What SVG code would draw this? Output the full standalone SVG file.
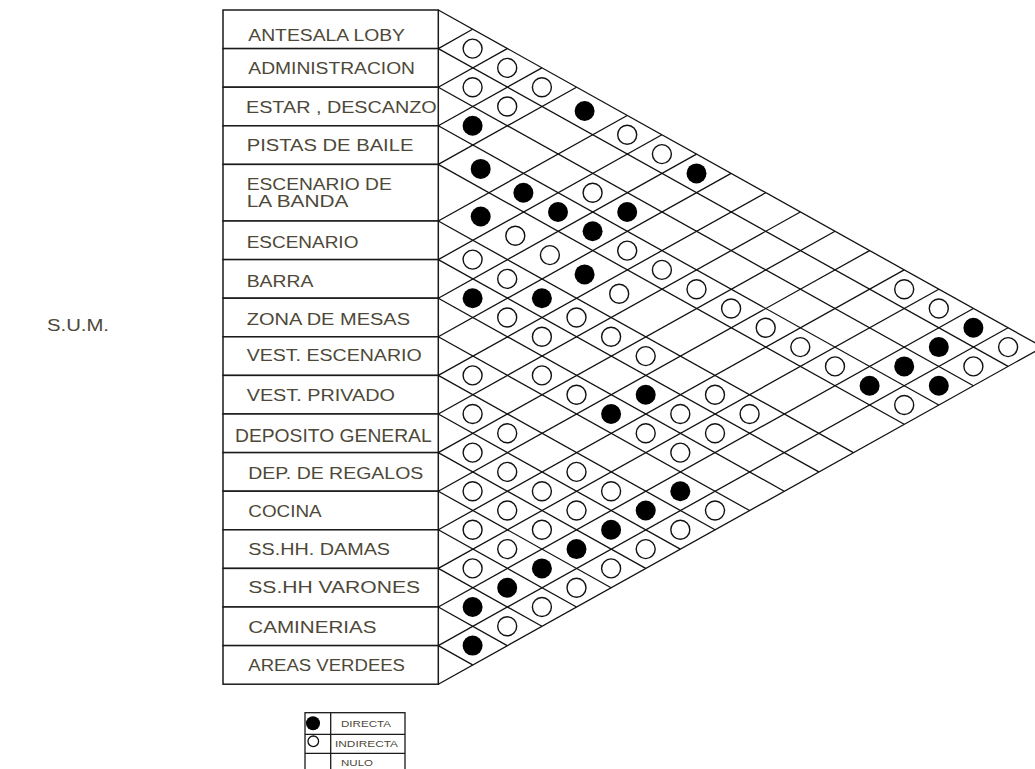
<svg xmlns="http://www.w3.org/2000/svg" width="1035" height="769" viewBox="0 0 1035 769">
<style>
.row{fill:#fff;stroke:#1a1a1a;stroke-width:1.5}
.lbl{font-family:"Liberation Sans",Arial,sans-serif;font-size:16px;fill:#4d4838}
.lg{font-family:"Liberation Sans",Arial,sans-serif;font-size:8.5px;fill:#4d4838}
.grid line{stroke:#111;stroke-width:1.3}
.o{fill:none;stroke:#111;stroke-width:1.4}
.f{fill:#000}
</style>
<rect width="1035" height="769" fill="#fff"/>
<text class="lbl" x="47" y="331" textLength="62" lengthAdjust="spacingAndGlyphs">S.U.M.</text>
<g id="rows">
<g id="n1"><rect class="row" x="223" y="10" width="215.3" height="38.6"/><text class="lbl" x="248.3" y="40.7" textLength="156.7" lengthAdjust="spacingAndGlyphs">ANTESALA LOBY</text></g>
<g id="n2"><rect class="row" x="223" y="48.6" width="215.3" height="38.6"/><text class="lbl" x="248.3" y="74" textLength="166.7" lengthAdjust="spacingAndGlyphs">ADMINISTRACION</text></g>
<g id="n3"><rect class="row" x="223" y="87.2" width="215.3" height="38.6"/><text class="lbl" x="246" y="112.7" textLength="190.7" lengthAdjust="spacingAndGlyphs">ESTAR , DESCANZO</text></g>
<g id="n4"><rect class="row" x="223" y="125.8" width="215.3" height="38.6"/><text class="lbl" x="246.7" y="150.7" textLength="166.7" lengthAdjust="spacingAndGlyphs">PISTAS DE BAILE</text></g>
<g id="n5"><rect class="row" x="223" y="164.4" width="215.3" height="56.6"/><text class="lbl" x="246.7" y="190" textLength="145" lengthAdjust="spacingAndGlyphs">ESCENARIO DE</text><text class="lbl" x="246.7" y="207.3" textLength="101.7" lengthAdjust="spacingAndGlyphs">LA BANDA</text></g>
<g id="n6"><rect class="row" x="223" y="221" width="215.3" height="38.6"/><text class="lbl" x="246.7" y="248.3" textLength="111.7" lengthAdjust="spacingAndGlyphs">ESCENARIO</text></g>
<g id="n7"><rect class="row" x="223" y="259.6" width="215.3" height="38.6"/><text class="lbl" x="246.7" y="287.3" textLength="66.7" lengthAdjust="spacingAndGlyphs">BARRA</text></g>
<g id="n8"><rect class="row" x="223" y="298.2" width="215.3" height="38.6"/><text class="lbl" x="246.7" y="325" textLength="163.3" lengthAdjust="spacingAndGlyphs">ZONA DE MESAS</text></g>
<g id="n9"><rect class="row" x="223" y="336.8" width="215.3" height="38.6"/><text class="lbl" x="246.7" y="361" textLength="175" lengthAdjust="spacingAndGlyphs">VEST. ESCENARIO</text></g>
<g id="n10"><rect class="row" x="223" y="375.4" width="215.3" height="38.6"/><text class="lbl" x="246.7" y="400.7" textLength="148.3" lengthAdjust="spacingAndGlyphs">VEST. PRIVADO</text></g>
<g id="n11"><rect class="row" x="223" y="414" width="215.3" height="38.6"/><text class="lbl" x="235" y="441.7" style="font-size:19px" textLength="196.7" lengthAdjust="spacingAndGlyphs">DEPOSITO GENERAL</text></g>
<g id="n12"><rect class="row" x="223" y="452.6" width="215.3" height="38.6"/><text class="lbl" x="248.3" y="479.3" textLength="175" lengthAdjust="spacingAndGlyphs">DEP. DE REGALOS</text></g>
<g id="n13"><rect class="row" x="223" y="491.2" width="215.3" height="38.6"/><text class="lbl" x="248.3" y="516.7" textLength="73.3" lengthAdjust="spacingAndGlyphs">COCINA</text></g>
<g id="n14"><rect class="row" x="223" y="529.8" width="215.3" height="38.6"/><text class="lbl" x="248.3" y="555" textLength="141.7" lengthAdjust="spacingAndGlyphs">SS.HH. DAMAS</text></g>
<g id="n15"><rect class="row" x="223" y="568.4" width="215.3" height="38.6"/><text class="lbl" x="248.3" y="593.3" textLength="171.7" lengthAdjust="spacingAndGlyphs">SS.HH VARONES</text></g>
<g id="n16"><rect class="row" x="223" y="607" width="215.3" height="38.6"/><text class="lbl" x="248.3" y="632.7" textLength="128.3" lengthAdjust="spacingAndGlyphs">CAMINERIAS</text></g>
<g id="n17"><rect class="row" x="223" y="645.6" width="215.3" height="38.6"/><text class="lbl" x="248.3" y="670.7" textLength="156.7" lengthAdjust="spacingAndGlyphs">AREAS VERDEES</text></g>
</g>
<g id="connectors" class="grid">
<line x1="438.3" y1="10" x2="1042.7" y2="347.1"/>
<line x1="438.3" y1="48.6" x2="1008.1" y2="366.4"/><line x1="438.3" y1="48.6" x2="472.6" y2="29.3"/>
<line x1="438.3" y1="87.2" x2="973.4" y2="385.7"/><line x1="438.3" y1="87.2" x2="507.2" y2="48.6"/>
<line x1="438.3" y1="125.8" x2="938.8" y2="405"/><line x1="438.3" y1="125.8" x2="541.9" y2="67.9"/>
<line x1="438.3" y1="164.4" x2="904.2" y2="424.3"/><line x1="438.3" y1="164.4" x2="576.5" y2="87.2"/>
<line x1="438.3" y1="221" x2="853.4" y2="452.6"/><line x1="438.3" y1="221" x2="627.2" y2="115.5"/>
<line x1="438.3" y1="259.6" x2="818.8" y2="471.9"/><line x1="438.3" y1="259.6" x2="661.9" y2="134.8"/>
<line x1="438.3" y1="298.2" x2="784.2" y2="491.2"/><line x1="438.3" y1="298.2" x2="696.5" y2="154.1"/>
<line x1="438.3" y1="336.8" x2="749.6" y2="510.5"/><line x1="438.3" y1="336.8" x2="731.1" y2="173.4"/>
<line x1="438.3" y1="375.4" x2="715" y2="529.8"/><line x1="438.3" y1="375.4" x2="765.7" y2="192.7"/>
<line x1="438.3" y1="414" x2="680.3" y2="549.1"/><line x1="438.3" y1="414" x2="800.3" y2="212"/>
<line x1="438.3" y1="452.6" x2="645.7" y2="568.4"/><line x1="438.3" y1="452.6" x2="835" y2="231.3"/>
<line x1="438.3" y1="491.2" x2="611.1" y2="587.7"/><line x1="438.3" y1="491.2" x2="869.6" y2="250.6"/>
<line x1="438.3" y1="529.8" x2="576.5" y2="607"/><line x1="438.3" y1="529.8" x2="904.2" y2="269.9"/>
<line x1="438.3" y1="568.4" x2="541.9" y2="626.3"/><line x1="438.3" y1="568.4" x2="938.8" y2="289.2"/>
<line x1="438.3" y1="607" x2="507.2" y2="645.6"/><line x1="438.3" y1="607" x2="973.4" y2="308.5"/>
<line x1="438.3" y1="645.6" x2="472.6" y2="664.9"/><line x1="438.3" y1="645.6" x2="1008.1" y2="327.8"/>
<line x1="438.3" y1="684.2" x2="1042.7" y2="347.1"/>
</g>
<g id="marks">
<g class="o">
<circle cx="472.6" cy="48.6" r="9.5"/><circle cx="507.2" cy="67.9" r="9.5"/><circle cx="541.9" cy="87.2" r="9.5"/><circle cx="627.2" cy="134.8" r="9.5"/><circle cx="661.9" cy="154.1" r="9.5"/><circle cx="904.2" cy="289.2" r="9.5"/><circle cx="938.8" cy="308.5" r="9.5"/><circle cx="1008.1" cy="347.1" r="9.5"/>
<circle cx="472.6" cy="87.2" r="9.5"/><circle cx="507.2" cy="106.5" r="9.5"/><circle cx="973.4" cy="366.4" r="9.5"/>
<circle cx="592.6" cy="192.7" r="9.5"/>
<circle cx="627.2" cy="250.6" r="9.5"/><circle cx="661.9" cy="269.9" r="9.5"/><circle cx="696.5" cy="289.2" r="9.5"/><circle cx="731.1" cy="308.5" r="9.5"/><circle cx="765.7" cy="327.8" r="9.5"/><circle cx="800.3" cy="347.1" r="9.5"/><circle cx="835" cy="366.4" r="9.5"/><circle cx="904.2" cy="405" r="9.5"/>
<circle cx="515.3" cy="235.8" r="9.5"/><circle cx="549.9" cy="255.1" r="9.5"/><circle cx="619.2" cy="293.7" r="9.5"/>
<circle cx="472.6" cy="259.6" r="9.5"/><circle cx="507.2" cy="278.9" r="9.5"/><circle cx="576.5" cy="317.5" r="9.5"/><circle cx="611.1" cy="336.8" r="9.5"/><circle cx="645.7" cy="356.1" r="9.5"/><circle cx="715" cy="394.7" r="9.5"/><circle cx="749.6" cy="414" r="9.5"/>
<circle cx="507.2" cy="317.5" r="9.5"/><circle cx="541.9" cy="336.8" r="9.5"/><circle cx="680.3" cy="414" r="9.5"/><circle cx="715" cy="433.3" r="9.5"/>
<circle cx="541.9" cy="375.4" r="9.5"/><circle cx="576.5" cy="394.7" r="9.5"/><circle cx="645.7" cy="433.3" r="9.5"/><circle cx="680.3" cy="452.6" r="9.5"/>
<circle cx="472.6" cy="375.4" r="9.5"/><circle cx="715" cy="510.5" r="9.5"/>
<circle cx="472.6" cy="414" r="9.5"/><circle cx="507.2" cy="433.3" r="9.5"/><circle cx="576.5" cy="471.9" r="9.5"/><circle cx="611.1" cy="491.2" r="9.5"/><circle cx="680.3" cy="529.8" r="9.5"/>
<circle cx="472.6" cy="452.6" r="9.5"/><circle cx="507.2" cy="471.9" r="9.5"/><circle cx="541.9" cy="491.2" r="9.5"/><circle cx="576.5" cy="510.5" r="9.5"/><circle cx="645.7" cy="549.1" r="9.5"/>
<circle cx="472.6" cy="491.2" r="9.5"/><circle cx="507.2" cy="510.5" r="9.5"/><circle cx="541.9" cy="529.8" r="9.5"/><circle cx="611.1" cy="568.4" r="9.5"/>
<circle cx="472.6" cy="529.8" r="9.5"/><circle cx="507.2" cy="549.1" r="9.5"/><circle cx="576.5" cy="587.7" r="9.5"/>
<circle cx="472.6" cy="568.4" r="9.5"/><circle cx="541.9" cy="607" r="9.5"/>
<circle cx="507.2" cy="626.3" r="9.5"/>
</g>
<g class="f">
<circle cx="584.6" cy="111" r="10"/><circle cx="696.5" cy="173.4" r="10"/><circle cx="973.4" cy="327.8" r="10"/>
<circle cx="938.8" cy="347.1" r="10"/>
<circle cx="472.6" cy="125.8" r="10"/><circle cx="627.2" cy="212" r="10"/><circle cx="904.2" cy="366.4" r="10"/><circle cx="938.8" cy="385.7" r="10"/>
<circle cx="480.7" cy="168.9" r="10"/><circle cx="523.4" cy="192.7" r="10"/><circle cx="558" cy="212" r="10"/><circle cx="592.6" cy="231.3" r="10"/><circle cx="869.6" cy="385.7" r="10"/>
<circle cx="480.7" cy="216.5" r="10"/><circle cx="584.6" cy="274.4" r="10"/>
<circle cx="541.9" cy="298.2" r="10"/>
<circle cx="472.6" cy="298.2" r="10"/><circle cx="645.7" cy="394.7" r="10"/>
<circle cx="611.1" cy="414" r="10"/>
<circle cx="680.3" cy="491.2" r="10"/>
<circle cx="645.7" cy="510.5" r="10"/>
<circle cx="611.1" cy="529.8" r="10"/>
<circle cx="576.5" cy="549.1" r="10"/>
<circle cx="541.9" cy="568.4" r="10"/>
<circle cx="507.2" cy="587.7" r="10"/>
<circle cx="472.6" cy="607" r="10"/>
<circle cx="472.6" cy="645.6" r="10"/>
</g>
</g>
<g id="legend">
<rect x="305" y="712.7" width="100" height="60" fill="none" stroke="#1a1a1a" stroke-width="1.3"/>
<line x1="330.7" y1="712.7" x2="330.7" y2="772" stroke="#1a1a1a" stroke-width="1.3"/>
<line x1="305" y1="734.3" x2="405" y2="734.3" stroke="#1a1a1a" stroke-width="1.3"/>
<line x1="305" y1="753.3" x2="405" y2="753.3" stroke="#1a1a1a" stroke-width="1.3"/>
<circle cx="313" cy="723.3" r="7" fill="#000"/>
<circle cx="313.3" cy="741.3" r="5.3" fill="none" stroke="#111" stroke-width="1.3"/>
<text class="lg" x="341" y="726.7" textLength="50" lengthAdjust="spacingAndGlyphs">DIRECTA</text>
<text class="lg" x="335" y="746.7" textLength="63" lengthAdjust="spacingAndGlyphs">INDIRECTA</text>
<text class="lg" x="341" y="766" textLength="32" lengthAdjust="spacingAndGlyphs">NULO</text>
</g>
</svg>
